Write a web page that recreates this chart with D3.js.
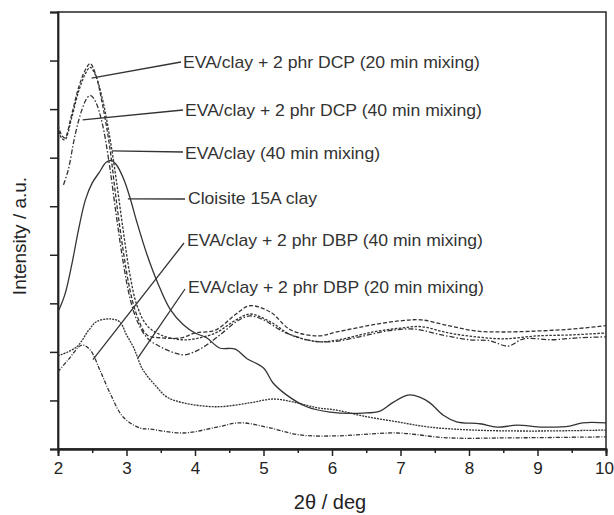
<!DOCTYPE html>
<html>
<head>
<meta charset="utf-8">
<script src="https://cdn.jsdelivr.net/npm/d3@7"></script>
<style>
  body { margin: 0; background: #fff; }
  svg { display: block; font-family: "Liberation Sans", Arial, sans-serif; }
</style>
</head>
<body>
<div id="chart"></div>
<script>
// 2theta (deg) and intensity (a.u.)
const dcp20_x = [2.0, 2.05, 2.1, 2.2, 2.3, 2.4, 2.47, 2.55, 2.65, 2.75, 2.85, 2.95, 3.05, 3.15, 3.3, 3.5, 3.8, 4.0, 4.3, 4.6, 4.8, 5.1, 5.4, 5.8, 6.07, 6.6, 7.0, 7.3, 7.7, 8.1, 8.5, 9.0, 9.5, 10.0]
const dcp20_y = [6.68, 6.47, 6.41, 6.89, 7.44, 7.81, 7.94, 7.71, 7.09, 6.27, 5.13, 4.10, 3.28, 2.76, 2.35, 2.29, 2.29, 2.39, 2.45, 2.78, 2.95, 2.82, 2.45, 2.33, 2.41, 2.56, 2.64, 2.66, 2.54, 2.43, 2.41, 2.43, 2.47, 2.54]

const dcp40_x = [2.08, 2.15, 2.25, 2.35, 2.43, 2.48, 2.55, 2.65, 2.75, 2.85, 2.95, 3.05, 3.15, 3.3, 3.5, 3.7, 3.85, 4.1, 4.4, 4.6, 4.8, 5.0, 5.3, 5.7, 6.0, 6.4, 6.8, 7.2, 7.6, 8.0, 8.3, 8.57, 8.8, 9.2, 9.6, 10.0]
const dcp40_y = [5.44, 5.75, 6.47, 6.99, 7.24, 7.28, 7.15, 6.68, 5.86, 4.82, 3.86, 3.11, 2.66, 2.29, 2.10, 1.98, 1.94, 2.08, 2.39, 2.62, 2.74, 2.66, 2.41, 2.23, 2.21, 2.31, 2.43, 2.47, 2.35, 2.25, 2.23, 2.12, 2.27, 2.25, 2.29, 2.31]

const eva40_x = [2.0, 2.05, 2.1, 2.2, 2.3, 2.4, 2.47, 2.55, 2.65, 2.75, 2.85, 2.95, 3.05, 3.15, 3.3, 3.5, 3.8, 4.0, 4.3, 4.6, 4.8, 5.1, 5.4, 5.8, 6.1, 6.6, 7.0, 7.3, 7.7, 8.1, 8.5, 9.0, 9.5, 10.0]
const eva40_y = [6.62, 6.41, 6.37, 6.82, 7.36, 7.73, 7.86, 7.69, 7.20, 6.47, 5.55, 4.52, 3.59, 2.97, 2.54, 2.35, 2.25, 2.27, 2.39, 2.66, 2.78, 2.62, 2.35, 2.21, 2.25, 2.41, 2.49, 2.52, 2.39, 2.31, 2.27, 2.33, 2.35, 2.39]

const clay_x = [2.0, 2.1, 2.2, 2.3, 2.4, 2.5, 2.6, 2.7, 2.78, 2.85, 2.95, 3.05, 3.15, 3.3, 3.45, 3.64, 3.83, 4.0, 4.17, 4.36, 4.58, 4.76, 5.0, 5.14, 5.34, 5.63, 5.97, 6.45, 6.7, 6.88, 7.11, 7.28, 7.43, 7.62, 7.82, 8.16, 8.41, 8.7, 9.08, 9.47, 9.66, 10.0]
const clay_y = [2.82, 3.18, 3.79, 4.52, 5.13, 5.48, 5.69, 5.90, 5.94, 5.86, 5.59, 5.18, 4.68, 4.00, 3.44, 2.87, 2.56, 2.39, 2.29, 2.08, 2.06, 1.86, 1.67, 1.36, 1.11, 0.87, 0.76, 0.74, 0.78, 0.95, 1.11, 1.07, 0.95, 0.70, 0.56, 0.52, 0.45, 0.49, 0.45, 0.47, 0.54, 0.54]

const dbp40_x = [2.0, 2.15, 2.35, 2.47, 2.61, 2.76, 2.95, 3.2, 3.34, 3.83, 4.32, 4.66, 5.05, 5.53, 6.07, 6.95, 7.68, 8.64, 10.0]
const dbp40_y = [1.59, 1.84, 2.14, 2.04, 1.63, 1.15, 0.66, 0.43, 0.41, 0.33, 0.45, 0.54, 0.45, 0.29, 0.27, 0.33, 0.23, 0.23, 0.25]

const dbp20_x = [2.0, 2.27, 2.45, 2.56, 2.76, 2.9, 3.0, 3.1, 3.24, 3.44, 3.59, 3.83, 4.32, 4.8, 5.14, 5.43, 5.78, 6.07, 6.45, 6.95, 7.43, 8.06, 8.9, 10.0]
const dbp20_y = [1.92, 2.10, 2.45, 2.62, 2.68, 2.62, 2.35, 2.10, 1.63, 1.28, 1.07, 0.95, 0.87, 0.95, 1.03, 0.97, 0.85, 0.80, 0.68, 0.56, 0.45, 0.39, 0.37, 0.39]

const labels = [
  "EVA/clay + 2 phr DCP (20 min mixing)",
  "EVA/clay + 2 phr DCP (40 min mixing)",
  "EVA/clay (40 min mixing)",
  "Cloisite 15A clay",
  "EVA/clay + 2 phr DBP (40 min mixing)",
  "EVA/clay + 2 phr DBP (20 min mixing)"
]
// point on the curve that each label's leader line touches (2theta, intensity)
const pointer_x = [2.49, 2.36, 2.79, 3.02, 2.51, 3.17]
const pointer_y = [7.64, 6.78, 6.14, 5.15, 1.84, 1.88]

const x_ticks = [2, 3, 4, 5, 6, 7, 8, 9, 10]
const y_ticks = [0, 1, 2, 3, 4, 5, 6, 7, 8, 9]

const series = [
  { x: dcp20_x, y: dcp20_y, dash: "4,2" },
  { x: dcp40_x, y: dcp40_y, dash: "5,2,1.5,2" },
  { x: eva40_x, y: eva40_y, dash: "2.5,1.5" },
  { x: clay_x, y: clay_y, dash: null },
  { x: dbp40_x, y: dbp40_y, dash: "4,1.5,1,1.5" },
  { x: dbp20_x, y: dbp20_y, dash: "2,1" }
]

// label placement (text start / leader start, in px)
const label_pos = [
  { tx: 183, ty: 62, lx: 181, ly: 62 },
  { tx: 185, ty: 110, lx: 183, ly: 110 },
  { tx: 185, ty: 153, lx: 183, ly: 152 },
  { tx: 188, ty: 198, lx: 185, ly: 199 },
  { tx: 187, ty: 240, lx: 184, ly: 243 },
  { tx: 188, ty: 287, lx: 185, ly: 289 }
]

const width = 614
const height = 515
const margin = { top: 12, right: 8, bottom: 66, left: 58 }

const svg = d3.select("#chart")
  .append("svg")
  .attr("width", width)
  .attr("height", height)

const x = d3.scaleLinear().domain([2, 10]).range([margin.left, width - margin.right])
const y = d3.scaleLinear().domain([0, 9]).range([height - margin.bottom, margin.top])

// frame
svg.append("rect")
  .attr("x", x(2)).attr("y", y(9))
  .attr("width", x(10) - x(2)).attr("height", y(0) - y(9))
  .attr("fill", "none")
  .attr("stroke", "#333")
  .attr("stroke-width", 1.6)

// x axis: majors with labels, minors at the halves
const xAxis = svg.append("g")
  .attr("transform", `translate(0,${y(0)})`)
  .call(d3.axisBottom(x).tickValues(x_ticks).tickSize(7).tickPadding(6).tickFormat(d3.format("d")))
xAxis.selectAll(".tick text").style("font-size", "17px").attr("fill", "#222")
// last label sits on the page edge, keep it inside
xAxis.selectAll(".tick text").filter(d => d === 10).attr("dx", "-2px")
svg.append("g")
  .attr("transform", `translate(0,${y(0)})`)
  .call(d3.axisBottom(x).tickValues(d3.range(2.5, 10, 1)).tickSize(4).tickFormat(""))

const yAxis = svg.append("g")
  .attr("transform", `translate(${x(2)},0)`)
  .call(d3.axisLeft(y).tickValues(y_ticks).tickSize(8).tickFormat(""))

svg.selectAll(".domain").attr("stroke", "#222").attr("stroke-width", 1.8)
svg.selectAll(".tick line").attr("stroke", "#222").attr("stroke-width", 1.5)

// curves
const line = d3.line()
  .x(d => x(d[0]))
  .y(d => y(d[1]))
  .curve(d3.curveCatmullRom.alpha(0.5))

svg.selectAll("path.curve")
  .data(series)
  .join("path")
  .attr("class", "curve")
  .attr("d", s => line(s.x.map((v, i) => [v, s.y[i]])))
  .attr("fill", "none")
  .attr("stroke", "#333")
  .attr("stroke-width", 1.3)
  .attr("stroke-dasharray", s => s.dash)

// leaders and labels (text a bit wide in the original, so stretch it)
labels.forEach((t, i) => {
  const p = label_pos[i]
  svg.append("line")
    .attr("x1", p.lx).attr("y1", p.ly)
    .attr("x2", x(pointer_x[i])).attr("y2", y(pointer_y[i]))
    .attr("stroke", "#333")
    .attr("stroke-width", 1.3)
  svg.append("text")
    .attr("transform", `translate(${p.tx},${p.ty}) scale(1.1,1)`)
    .attr("dy", "0.35em")
    .style("font-size", "16px")
    .attr("fill", "#333")
    .text(t)
})

svg.append("text")
  .attr("x", 330).attr("y", 509)
  .attr("text-anchor", "middle")
  .style("font-size", "20px")
  .attr("fill", "#222")
  .text("2θ / deg")

svg.append("text")
  .attr("transform", `translate(26,236) rotate(-90)`)
  .attr("text-anchor", "middle")
  .style("font-size", "19px")
  .attr("fill", "#222")
  .text("Intensity / a.u.")
</script>
</body>
</html>
